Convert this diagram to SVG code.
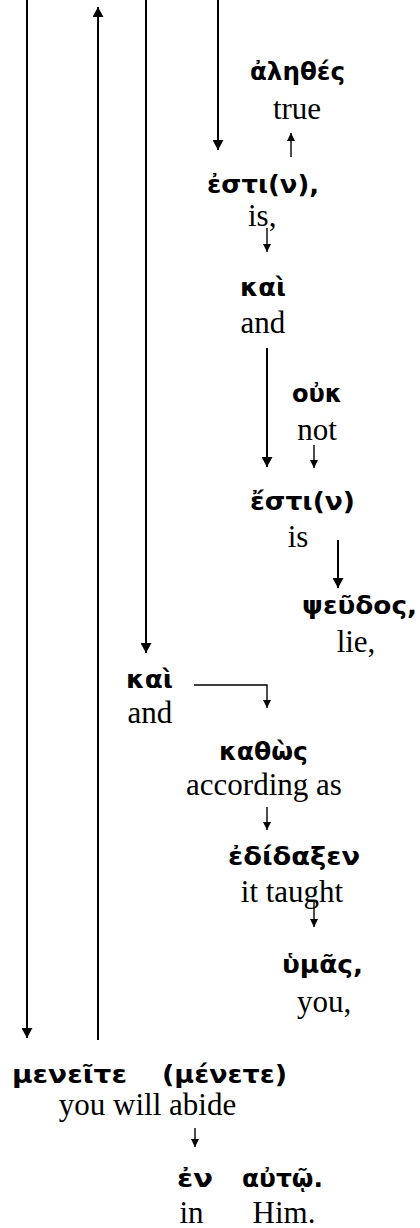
<svg xmlns="http://www.w3.org/2000/svg" width="420" height="1228" viewBox="0 0 420 1228">
<style>
.g{font-family:"DejaVu Sans","Noto Sans",sans-serif;font-weight:bold;font-size:24px;fill:#000}
.e{font-family:"Liberation Serif","Times New Roman",serif;font-size:31px;fill:#000}
.m{text-anchor:middle}
.big{stroke:#000;stroke-width:2;fill:none}
.sm{stroke:#000;stroke-width:1.4;fill:none}
</style>
<defs>
<marker id="ab" markerUnits="userSpaceOnUse" markerWidth="11" markerHeight="11" refX="10" refY="5.5" orient="auto"><path d="M0,0 L10,5.5 L0,11 z" fill="#000"/></marker>
<marker id="as" markerUnits="userSpaceOnUse" markerWidth="9" markerHeight="9" refX="8" refY="4" orient="auto"><path d="M0,0 L8,4 L0,8 z" fill="#000"/></marker>
</defs>
<g id="connectors">
<line class="big" x1="27" y1="0" x2="27" y2="1038" marker-end="url(#ab)"/>
<line class="big" x1="98" y1="1040" x2="98" y2="7" marker-end="url(#ab)"/>
<line class="big" x1="146" y1="0" x2="146" y2="653" marker-end="url(#ab)"/>
<line class="big" x1="218" y1="0" x2="218" y2="150" marker-end="url(#ab)"/>
<line class="sm" x1="291" y1="157" x2="291" y2="133" marker-end="url(#as)"/>
<line class="sm" x1="267" y1="228" x2="267" y2="252" marker-end="url(#as)"/>
<line class="big" x1="267" y1="348" x2="267" y2="467" marker-end="url(#ab)"/>
<line class="sm" x1="314" y1="445" x2="314" y2="468" marker-end="url(#as)"/>
<line class="big" x1="338" y1="540" x2="338" y2="588" marker-end="url(#ab)"/>
<polyline class="sm" points="194,685 267,685 267,708" marker-end="url(#as)"/>
<line class="sm" x1="267" y1="807" x2="267" y2="830" marker-end="url(#as)"/>
<line class="sm" x1="314" y1="902" x2="314" y2="927" marker-end="url(#as)"/>
<line class="sm" x1="195" y1="1128" x2="195" y2="1147" marker-end="url(#as)"/>
</g>
<g id="n-alethes"><text class="g m" x="297.5" y="80" textLength="95" lengthAdjust="spacingAndGlyphs">ἀληθές</text><text class="e m" x="297" y="119">true</text></g>
<g id="n-esti1"><text class="g m" x="263" y="193" textLength="112" lengthAdjust="spacingAndGlyphs">ἐστι(ν),</text><text class="e" x="248" y="226">is,</text></g>
<g id="n-kai1"><text class="g m" x="263" y="296" textLength="46" lengthAdjust="spacingAndGlyphs">καὶ</text><text class="e m" x="263" y="333">and</text></g>
<g id="n-ouk"><text class="g m" x="317" y="402" textLength="50" lengthAdjust="spacingAndGlyphs">οὐκ</text><text class="e m" x="317" y="440">not</text></g>
<g id="n-esti2"><text class="g m" x="302.5" y="510" textLength="105" lengthAdjust="spacingAndGlyphs">ἔστι(ν)</text><text class="e m" x="298" y="547">is</text></g>
<g id="n-pseudos"><text class="g m" x="359.5" y="614" textLength="115" lengthAdjust="spacingAndGlyphs">ψεῦδος,</text><text class="e m" x="356" y="652">lie,</text></g>
<g id="n-kai2"><text class="g m" x="149.5" y="688" textLength="47" lengthAdjust="spacingAndGlyphs">καὶ</text><text class="e m" x="150" y="723">and</text></g>
<g id="n-kathos"><text class="g m" x="263.5" y="760" textLength="89" lengthAdjust="spacingAndGlyphs">καθὼς</text><text class="e m" x="264" y="795">according as</text></g>
<g id="n-edidaxen"><text class="g m" x="294" y="865" textLength="132" lengthAdjust="spacingAndGlyphs">ἐδίδαξεν</text><text class="e m" x="292" y="902">it taught</text></g>
<g id="n-humas"><text class="g m" x="322.5" y="973" textLength="81" lengthAdjust="spacingAndGlyphs">ὑμᾶς,</text><text class="e m" x="324" y="1012">you,</text></g>
<g id="n-meneite"><text class="g" x="12" y="1083" textLength="115" lengthAdjust="spacingAndGlyphs">μενεῖτε</text><text class="g" x="162" y="1083" textLength="125" lengthAdjust="spacingAndGlyphs">(μένετε)</text><text class="e m" x="147.5" y="1115">you will abide</text></g>
<g id="n-en"><text class="g m" x="195" y="1187" textLength="36" lengthAdjust="spacingAndGlyphs">ἐν</text><text class="e m" x="191.5" y="1223">in</text></g>
<g id="n-auto"><text class="g m" x="282.5" y="1187" textLength="81" lengthAdjust="spacingAndGlyphs">αὐτῷ.</text><text class="e m" x="284" y="1223">Him.</text></g>
</svg>
